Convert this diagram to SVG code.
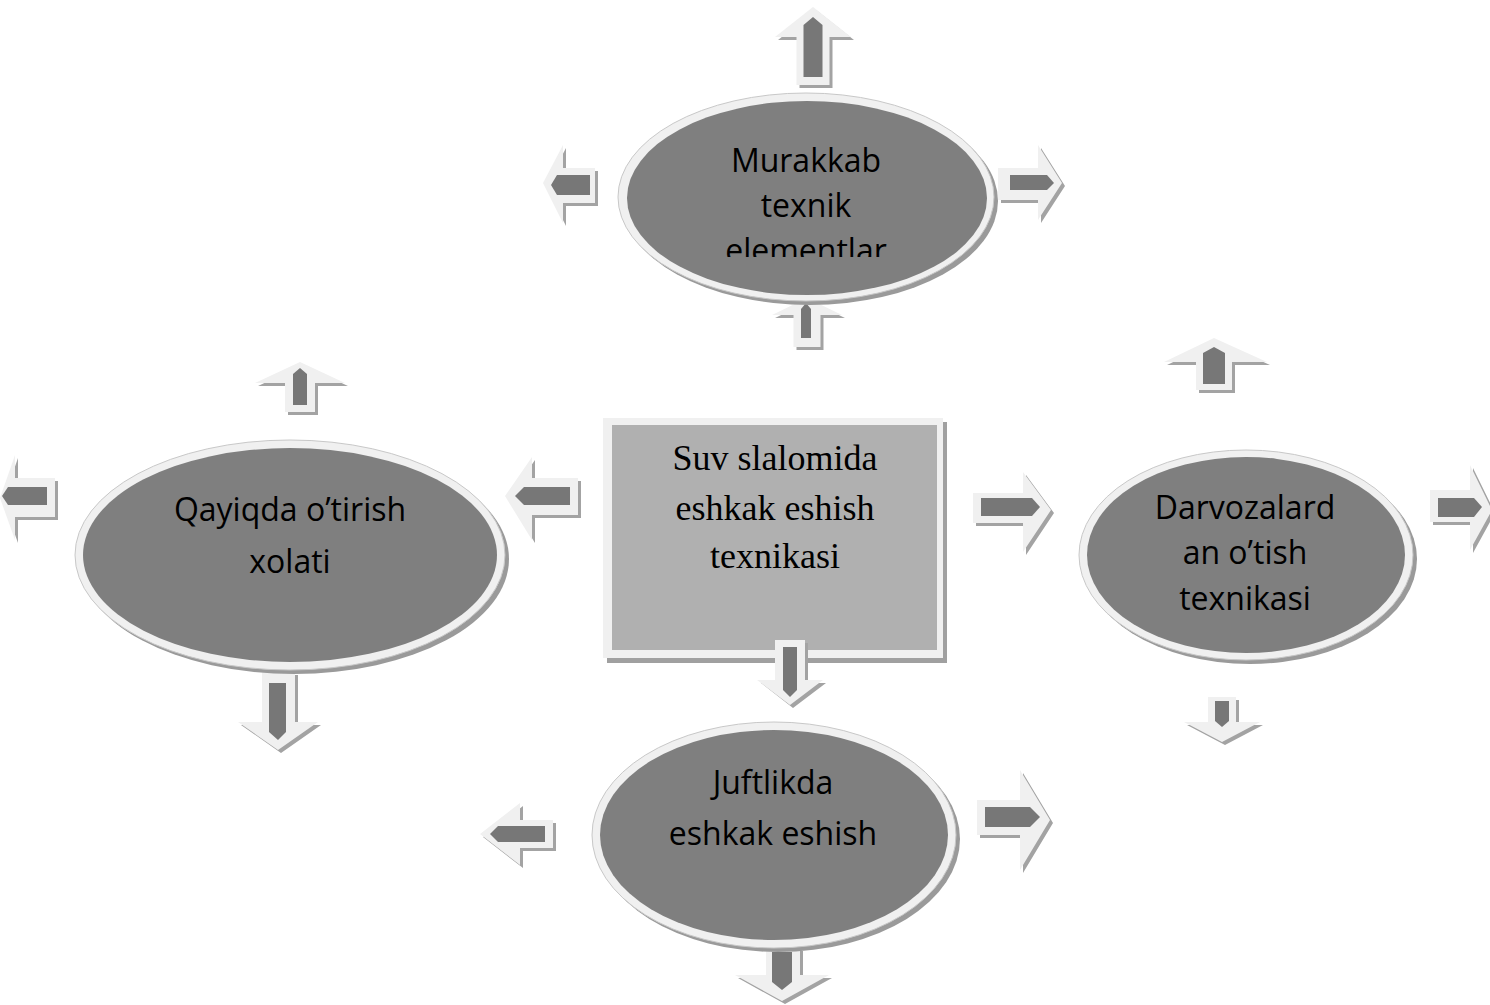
<svg xmlns="http://www.w3.org/2000/svg" width="1490" height="1005" viewBox="0 0 1490 1005">
<style>
.sh{fill:#a3a3a3}
.out{fill:#f0f0f0}
.in{fill:#777777}
.esh{fill:#9a9a9a}
.ering{fill:#f0f0f0;stroke:#c8c8c8;stroke-width:1}
.efill{fill:#7f7f7f}
.et{font-family:"Open Sans",sans-serif;font-size:32px;fill:#000;text-anchor:middle}
.bt{font-family:"Liberation Serif",serif;font-size:36px;fill:#000;text-anchor:middle}
</style>
<defs>
<clipPath id="clipM"><rect x="600" y="100" width="420" height="157"/></clipPath>
</defs>
<rect width="1490" height="1005" fill="#ffffff"/>

<g id="node-center">
<rect x="607" y="422" width="340" height="241" fill="#a0a0a0"/>
<rect x="603" y="418" width="340" height="240" fill="#f0f0f0"/>
<rect x="612" y="425" width="325" height="225" fill="#b0b0b0"/>
<text class="bt" x="775" y="470">Suv slalomida</text>
<text class="bt" x="775" y="520">eshkak eshish</text>
<text class="bt" x="775" y="568">texnikasi</text>
</g>

<g id="connectors">
<!-- up arrows -->
<g id="a-top" transform="translate(0,0)">
<path class="sh" d="M816,10 L854,40 L832.5,40 L832.5,88 L799.5,88 L799.5,40 L778,40 Z"/>
<path class="out" d="M813,7 L851,37 L829.5,37 L829.5,85 L796.5,85 L796.5,37 L775,37 Z"/>
<path class="in" d="M813,17 L822.5,25 L822.5,77 L803.5,77 L803.5,25 Z"/>
</g>
<g id="a-murakkab-bottom">
<path class="sh" d="M810,301 L845,318 L823.5,318 L823.5,350 L796.5,350 L796.5,318 L775,318 Z"/>
<path class="out" d="M807,298 L842,315 L820.5,315 L820.5,347 L793.5,347 L793.5,315 L772,315 Z"/>
<path class="in" d="M806,303 L811,309 L811,338 L801,338 L801,309 Z"/>
</g>
<g id="a-left-top">
<path class="sh" d="M303,365 L348,386 L318,386 L318,415 L288,415 L288,386 L258,386 Z"/>
<path class="out" d="M300,362 L345,383 L315,383 L315,412 L285,412 L285,383 L255,383 Z"/>
<path class="in" d="M300,368 L307,374 L307,405 L293,405 L293,374 Z"/>
</g>
<g id="a-right-top">
<path class="sh" d="M1217,341 L1270,365 L1235,365 L1235,393 L1199,393 L1199,365 L1167,365 Z"/>
<path class="out" d="M1214,338 L1267,362 L1232,362 L1232,390 L1196,390 L1196,362 L1164,362 Z"/>
<path class="in" d="M1214,347 L1225,353 L1225,384 L1203,384 L1203,353 Z"/>
</g>
<!-- down arrows -->
<g id="a-center-down">
<path class="sh" d="M793,708 L826,683 L808,683 L808,643 L779,643 L779,683 L761,683 Z"/>
<path class="out" d="M790,705 L823,680 L805,680 L805,640 L775,640 L775,680 L757,680 Z"/>
<path class="in" d="M790,697 L797,690 L797,647 L783,647 L783,690 Z"/>
</g>
<g id="a-left-down">
<path class="sh" d="M281,753 L321,725 L298,725 L298,675 L265,675 L265,725 L241,725 Z"/>
<path class="out" d="M278,750 L318,722 L295,722 L295,672 L262,672 L262,722 L238,722 Z"/>
<path class="in" d="M278,740 L286,732 L286,683 L269,683 L269,732 Z"/>
</g>
<g id="a-right-down">
<path class="sh" d="M1225,745 L1263,725 L1239,725 L1239,700 L1211,700 L1211,725 L1187,725 Z"/>
<path class="out" d="M1222,742 L1260,722 L1236,722 L1236,697 L1208,697 L1208,722 L1184,722 Z"/>
<path class="in" d="M1222,727 L1229,721 L1229,701 L1215,701 L1215,721 Z"/>
</g>
<g id="a-bottom-down">
<path class="sh" d="M785,1004 L832,978 L803,978 L803,951 L769,951 L769,978 L738,978 Z"/>
<path class="out" d="M782,1001 L829,975 L800,975 L800,948 L766,948 L766,975 L735,975 Z"/>
<path class="in" d="M782,990 L792,982 L792,952 L772,952 L772,982 Z"/>
</g>
<!-- left arrows -->
<g id="a-murakkab-left">
<path class="sh" d="M546,186 L566,148 L566,171 L598,171 L598,206 L566,206 L566,226 Z"/>
<path class="out" d="M543,183 L563,145 L563,168 L595,168 L595,203 L563,203 L563,223 Z"/>
<path class="in" d="M551,185 L557,175 L590,175 L590,195 L557,195 Z"/>
</g>
<g id="a-far-left">
<path class="sh" d="M3,501 L18,458 L18,481 L58,481 L58,520 L18,520 L18,543 Z"/>
<path class="out" d="M0,498 L15,455 L15,478 L55,478 L55,517 L15,517 L15,540 Z"/>
<path class="in" d="M2,496 L8,487 L47,487 L47,505 L8,505 Z"/>
</g>
<g id="a-center-left">
<path class="sh" d="M508,499 L535,460 L535,481 L581,481 L581,518 L535,518 L535,543 Z"/>
<path class="out" d="M505,496 L532,457 L532,478 L578,478 L578,515 L532,515 L532,540 Z"/>
<path class="in" d="M515,496 L524,487 L570,487 L570,505 L524,505 Z"/>
</g>
<g id="a-juft-left">
<path class="sh" d="M483,837 L523,806 L523,823 L556,823 L556,851 L523,851 L523,868 Z"/>
<path class="out" d="M480,834 L520,803 L520,820 L553,820 L553,848 L520,848 L520,865 Z"/>
<path class="in" d="M490,834 L498,826 L545,826 L545,842 L498,842 Z"/>
</g>
<!-- right arrows -->
<g id="a-murakkab-right">
<path class="sh" d="M1065,186 L1041,148 L1041,171 L1001,171 L1001,203 L1041,203 L1041,223 Z"/>
<path class="out" d="M1062,183 L1038,145 L1038,168 L998,168 L998,200 L1038,200 L1038,220 Z"/>
<path class="in" d="M1054,183 L1047,175 L1010,175 L1010,190 L1047,190 Z"/>
</g>
<g id="a-center-right">
<path class="sh" d="M1054,513 L1026,475 L1026,496 L976,496 L976,526 L1026,526 L1026,555 Z"/>
<path class="out" d="M1051,510 L1023,472 L1023,493 L973,493 L973,523 L1023,523 L1023,552 Z"/>
<path class="in" d="M1040,507 L1032,498 L981,498 L981,516 L1032,516 Z"/>
</g>
<g id="a-far-right">
<path class="sh" d="M1495,513 L1473,468 L1473,493 L1433,493 L1433,525 L1473,525 L1473,553 Z"/>
<path class="out" d="M1492,510 L1470,465 L1470,490 L1430,490 L1430,522 L1470,522 L1470,550 Z"/>
<path class="in" d="M1482,507 L1474,498 L1438,498 L1438,517 L1474,517 Z"/>
</g>
<g id="a-juft-right">
<path class="sh" d="M1053,823 L1023,773 L1023,803 L980,803 L980,838 L1023,838 L1023,873 Z"/>
<path class="out" d="M1050,820 L1020,770 L1020,800 L977,800 L977,835 L1020,835 L1020,870 Z"/>
<path class="in" d="M1040,817 L1030,807 L985,807 L985,827 L1030,827 Z"/>
</g>
</g>

<g id="node-murakkab">
<ellipse class="esh" cx="810" cy="201" rx="188" ry="104"/>
<ellipse class="ering" cx="806" cy="197" rx="188" ry="104"/>
<ellipse class="efill" cx="807" cy="198" rx="180" ry="97"/>
<g clip-path="url(#clipM)">
<text class="et" x="806" y="172">Murakkab</text>
<text class="et" x="806" y="217">texnik</text>
<text class="et" x="806" y="262">elementlar</text>
</g>
</g>

<g id="node-qayiqda">
<ellipse class="esh" cx="294" cy="559" rx="215" ry="115"/>
<ellipse class="ering" cx="290" cy="555" rx="215" ry="115"/>
<ellipse class="efill" cx="290" cy="555" rx="207" ry="107"/>
<text class="et" x="290" y="521">Qayiqda o’tirish</text>
<text class="et" x="290" y="573">xolati</text>
</g>

<g id="node-darvoza">
<ellipse class="esh" cx="1250" cy="559" rx="167" ry="105"/>
<ellipse class="ering" cx="1246" cy="555" rx="167" ry="105"/>
<ellipse class="efill" cx="1246" cy="555" rx="159" ry="98"/>
<text class="et" x="1245" y="519">Darvozalard</text>
<text class="et" x="1245" y="564">an o’tish</text>
<text class="et" x="1245" y="610">texnikasi</text>
</g>

<g id="node-juftlikda">
<ellipse class="esh" cx="778" cy="839" rx="182" ry="113"/>
<ellipse class="ering" cx="774" cy="835" rx="182" ry="113"/>
<ellipse class="efill" cx="774" cy="835" rx="174" ry="105"/>
<text class="et" x="773" y="794">Juftlikda</text>
<text class="et" x="773" y="845">eshkak eshish</text>
</g>
</svg>
